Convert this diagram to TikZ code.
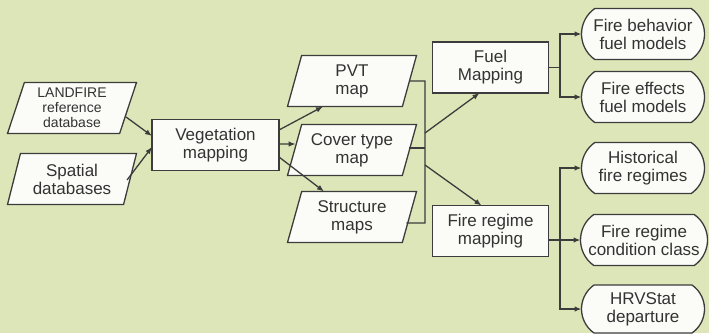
\documentclass[tikz,border=0pt]{standalone}
\usepackage{fontspec}
\setmainfont{Liberation Sans}
\usepackage{tikz}
\usetikzlibrary{shapes.geometric, shapes.misc, arrows.meta}

\definecolor{bgcol}{HTML}{DDE6B8}
\definecolor{linecol}{HTML}{3C3C3C}
\definecolor{boxcol}{HTML}{FBFBF7}
\definecolor{txtcol}{HTML}{333333}

\begin{document}
\begin{tikzpicture}[x=1pt, y=-1pt,
    every node/.style={text=txtcol, align=center, font=\fontsize{17}{18}\selectfont, outer sep=0pt},
    databox/.style={draw=linecol, fill=boxcol, line width=1.3pt, trapezium, trapezium left angle=67, trapezium right angle=113,
        trapezium stretches body, minimum width=129pt, minimum height=51pt, inner sep=0pt},
    procbox/.style={draw=linecol, fill=boxcol, line width=1.3pt, rectangle, minimum width=116pt, minimum height=51pt, inner sep=0pt},
    prodbox/.style={draw=linecol, fill=boxcol, line width=1.3pt, rounded rectangle, rounded rectangle arc length=110,
        minimum width=123pt, minimum height=51pt, inner sep=0pt},
    line/.style={draw=linecol, line width=1.3pt},
    arr/.style={line, -{Latex[length=7pt, width=5.5pt]}}]
    \useasboundingbox[fill=bgcol] (0,0) rectangle (709,333);
    % inputs
    \node[databox, font=\fontsize{14}{15}\selectfont] (land) at (72,108) {LANDFIRE\\reference\\database};
    \node[databox] (spat) at (72,179) {Spatial\\databases};
    \node[procbox, minimum width=127pt] (veg) at (215.5,145) {Vegetation\\mapping};
    % vegetation maps
    \node[databox] (pvt) at (352,81) {PVT\\map};
    \node[databox] (cover) at (352,150) {Cover type\\map};
    \node[databox] (struct) at (352,217) {Structure\\maps};
    \node[procbox] (fuel) at (490.5,67.5) {Fuel\\Mapping};
    \node[procbox] (regime) at (490.5,231) {Fire regime\\mapping};
    % products
    \node[prodbox] (fbfm) at (643,34) {Fire behavior\\fuel models};
    \node[prodbox] (fefm) at (643,97) {Fire effects\\fuel models};
    \node[prodbox] (hist) at (643,168) {Historical\\fire regimes};
    \node[prodbox, minimum width=127pt] (frcc) at (644,240) {Fire regime\\condition class};
    \node[prodbox, minimum height=48pt] (hrv) at (643,309) {HRVStat\\departure};

    \draw[arr] ([shift={(-2,9)}]land.east) -- ([shift={(0,-9)}]veg.west);
    \draw[arr] ([shift={(-3,1)}]spat.east) -- ([shift={(0,2)}]veg.west);
    \draw[arr] ([shift={(0,-15)}]veg.east) -- ([shift={(-29,0)}]pvt.south);
    \draw[arr] ([shift={(0,-1)}]veg.east) -- ([shift={(1,-6)}]cover.west);
    \draw[arr] ([shift={(0,12)}]veg.east) -- ([shift={(-28,0)}]struct.north);

    \coordinate (jtop) at (425,81);
    \coordinate (jbot) at (425,223);
    \coordinate (jf) at (425,133);
    \coordinate (jr) at (425,165);
    \draw[line] (pvt.east) -- (jtop) -- (jbot) -- ([shift={(-3,6)}]struct.east);
    \draw[line] ([shift={(0,-2)}]cover.east) -- ([shift={(0,-2)}]cover.east -| jtop);
    \draw[arr] (jf) -- ([shift={(-11,0)}]fuel.south);
    \draw[arr] (jr) -- ([shift={(-9,0)}]regime.north);

    \coordinate (fb) at (560,67.5);
    \coordinate (rb) at (560,240);
    \draw[line] (fuel.east) -- (fb);
    \draw[arr] (fb) |- (fbfm.west);
    \draw[arr] (fb) |- (fefm.west);
    \draw[line] ([shift={(0,9)}]regime.east) -- (rb);
    \draw[arr] (rb) |- (hist.west);
    \draw[arr] (rb) -- (frcc.west);
    \draw[arr] (rb) |- (hrv.west);
\end{tikzpicture}
\end{document}
